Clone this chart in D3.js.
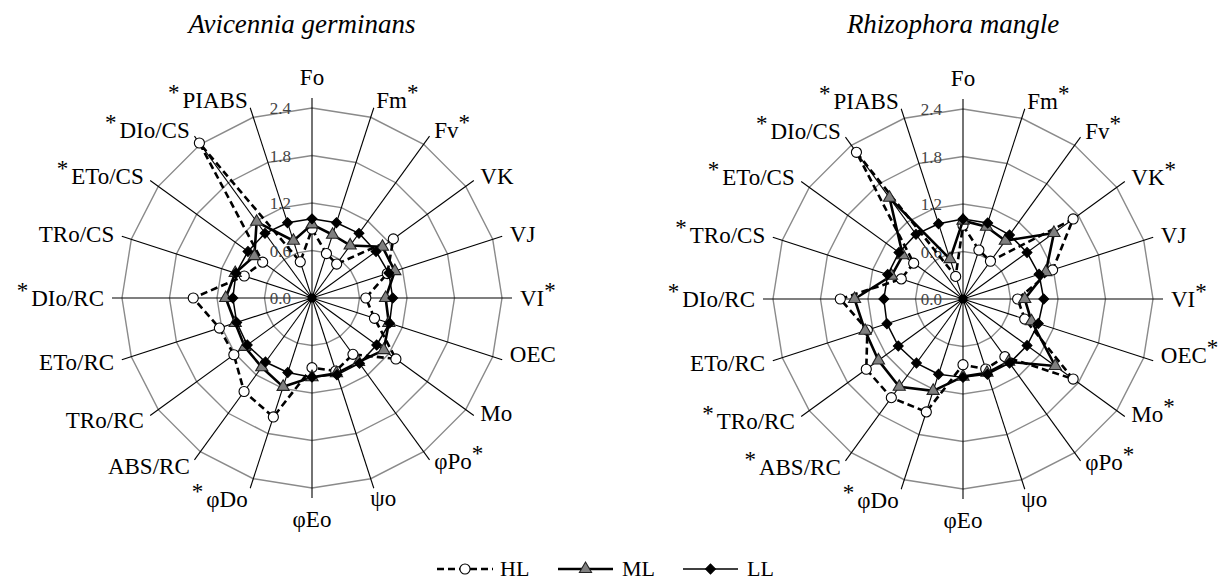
<!DOCTYPE html>
<html>
<head>
<meta charset="utf-8">
<script src="https://cdn.jsdelivr.net/npm/d3@7"></script>
<style>
  body { margin: 0; background: #fff; }
  svg text { font-family: "Liberation Serif", "Times New Roman", "DejaVu Serif", serif; }
</style>
</head>
<body>
<svg id="chart" width="1219" height="581"></svg>
<script>
// axes of both radars, clockwise from the top
const axes = ["Fo", "Fm", "Fv", "VK", "VJ", "VI", "OEC", "Mo", "φPo", "ψo",
              "φEo", "φDo", "ABS/RC", "TRo/RC", "ETo/RC", "DIo/RC", "TRo/CS", "ETo/CS", "DIo/CS", "PIABS"];
const ticks = [0.0, 0.6, 1.2, 1.8, 2.4];
const seriesNames = ["HL", "ML", "LL"];

// Avicennia germinans
const aviStars = ["Fm", "Fv", "VI", "φPo", "φDo", "DIo/RC", "ETo/CS", "DIo/CS", "PIABS"];
const aviHL = [0.87, 0.59, 0.53, 1.27, 1.00, 0.68, 0.83, 1.31, 0.88, 0.97,
               0.88, 1.58, 1.46, 1.22, 1.23, 1.50, 0.90, 0.77, 2.42, 0.48];
const aviML = [0.93, 0.84, 0.82, 1.10, 1.10, 0.93, 1.02, 1.12, 1.00, 1.00,
               1.00, 1.18, 1.08, 1.05, 1.02, 1.09, 1.02, 0.90, 1.19, 0.76];
const aviLL = [1.00, 1.00, 1.01, 1.00, 1.02, 1.02, 1.03, 1.01, 1.02, 1.02,
               1.00, 0.99, 1.00, 1.01, 1.00, 1.00, 1.01, 1.00, 1.01, 1.00];

// Rhizophora mangle
const rhiStars = ["Fm", "Fv", "VK", "VI", "OEC", "Mo", "φPo", "φDo", "ABS/RC", "TRo/RC",
                  "DIo/RC", "TRo/CS", "ETo/CS", "DIo/CS", "PIABS"];
const rhiHL = [0.93, 0.65, 0.59, 1.72, 1.19, 0.69, 0.82, 1.72, 0.90, 0.93,
               0.83, 1.50, 1.54, 1.51, 1.27, 1.55, 0.82, 0.77, 2.29, 0.30];
const rhiML = [0.99, 0.96, 0.91, 1.42, 1.10, 0.78, 0.91, 1.44, 0.98, 0.98,
               0.98, 1.22, 1.37, 1.32, 1.30, 1.37, 0.95, 0.94, 1.58, 0.53];
const rhiLL = [1.01, 1.01, 1.00, 1.00, 1.01, 1.02, 1.00, 1.00, 1.00, 1.00,
               0.99, 1.00, 1.00, 1.01, 1.01, 1.00, 1.00, 1.00, 1.01, 1.00];

const FONT = '"Liberation Serif", "Times New Roman", "DejaVu Serif", serif';

const svg = d3.select('#chart');
svg.append('rect').attr('width', 1219).attr('height', 581).attr('fill', '#fff');

const rScale = d3.scaleLinear().domain([0, 2.4]).range([0, 190]);
const angle = i => i * 2 * Math.PI / axes.length;

const styles = {
    HL: { dash: '7,4', width: 2.6, symbol: d3.symbolCircle, size: 80, fill: '#fff', stroke: '#000', rot: 0 },
    ML: { dash: null, width: 2.6, symbol: d3.symbolTriangle, size: 64, fill: '#808080', stroke: '#222', rot: 0 },
    LL: { dash: null, width: 1.5, symbol: d3.symbolSquare, size: 48, fill: '#000', stroke: '#000', rot: 45 }
};

// small nudges for label placement
const labelNudge = { "OEC": [0, -8], "Mo": [0, -7], "φPo": [0, -5], "ψo": [-6, 2], "φDo": [0, 3] };

function drawRadar(cx, cy, title, data, stars) {
    const g = svg.append('g').attr('transform', `translate(${cx},${cy})`);

    svg.append('text')
        .attr('x', cx - 10).attr('y', 33)
        .attr('text-anchor', 'middle')
        .attr('font-family', FONT)
        .style('font-style', 'italic')
        .style('font-size', '27px')
        .text(title);

    // polygon rings
    const ring = d3.lineRadial()
        .angle((d, i) => angle(i))
        .radius(d => rScale(d))
        .curve(d3.curveLinearClosed);

    ticks.slice(1).forEach(t => {
        g.append('path')
            .datum(axes.map(() => t))
            .attr('d', ring)
            .attr('fill', 'none')
            .attr('stroke', '#8a8a8a')
            .attr('stroke-width', 1.4);
    });

    // spokes
    const axisLen = rScale(2.4) + 10;
    axes.forEach((a, i) => {
        const th = angle(i);
        g.append('line')
            .attr('x1', 0).attr('y1', 0)
            .attr('x2', axisLen * Math.sin(th))
            .attr('y2', -axisLen * Math.cos(th))
            .attr('stroke', '#000')
            .attr('stroke-width', 1.1);
    });

    // tick labels along the top spoke
    g.selectAll('.tick')
        .data(ticks)
        .join('text')
        .attr('x', -21)
        .attr('y', d => -rScale(d) + 6)
        .attr('text-anchor', 'end')
        .attr('font-family', FONT)
        .style('font-size', '17px')
        .style('fill', '#444')
        .text(d => d.toFixed(1));

    // series
    seriesNames.forEach((name, si) => {
        const st = styles[name];
        const vals = data[si];
        const line = d3.lineRadial()
            .angle((d, i) => angle(i))
            .radius(d => rScale(d))
            .curve(d3.curveLinearClosed);
        g.append('path')
            .datum(vals)
            .attr('d', line)
            .attr('fill', 'none')
            .attr('stroke', '#000')
            .attr('stroke-width', st.width)
            .attr('stroke-dasharray', st.dash)
            .attr('stroke-linejoin', 'round');
        g.selectAll('.m' + name)
            .data(vals)
            .join('path')
            .attr('d', d3.symbol().type(st.symbol).size(st.size))
            .attr('transform', (d, i) => {
                const th = angle(i);
                return `translate(${rScale(d) * Math.sin(th)},${-rScale(d) * Math.cos(th)}) rotate(${st.rot})`;
            })
            .attr('fill', st.fill)
            .attr('stroke', st.stroke)
            .attr('stroke-width', 1.1);
    });

    g.append('circle').attr('r', 4.5).attr('fill', '#000');

    // axis labels
    axes.forEach((a, i) => {
        const th = angle(i);
        const s = Math.sin(th), c = Math.cos(th);
        let x = 208 * s, y = -208 * c;
        let anchor = s > 0.1 ? 'start' : (s < -0.1 ? 'end' : 'middle');
        if (a === 'Fo') { x = 0; y = -221; }
        if (a === 'φEo') { x = 0; y = 221; }
        const n = labelNudge[a] || [0, 0];
        x += n[0]; y += n[1];
        const starred = stars.includes(a);
        const t = g.append('text')
            .attr('x', x).attr('y', y + 8)
            .attr('text-anchor', anchor)
            .attr('font-family', FONT)
            .style('font-size', '23px');
        if (starred && anchor === 'end') {
            t.append('tspan').attr('dy', -8).text('*');
            t.append('tspan').attr('dy', 8).attr('dx', 3).text(a);
        } else if (starred) {
            t.append('tspan').text(a);
            t.append('tspan').attr('dy', -8).text('*');
        } else {
            t.text(a);
        }
    });
}

drawRadar(312, 298, 'Avicennia germinans', [aviHL, aviML, aviLL], aviStars);
drawRadar(963, 299, 'Rhizophora mangle', [rhiHL, rhiML, rhiLL], rhiStars);

// legend
const legendItems = [
    { name: 'HL', x1: 437, x2: 493, tx: 500 },
    { name: 'ML', x1: 558, x2: 613, tx: 622 },
    { name: 'LL', x1: 683, x2: 738, tx: 747 }
];
const legY = 569;
legendItems.forEach(it => {
    const st = styles[it.name];
    svg.append('line')
        .attr('x1', it.x1).attr('x2', it.x2)
        .attr('y1', legY).attr('y2', legY)
        .attr('stroke', '#000')
        .attr('stroke-width', st.width)
        .attr('stroke-dasharray', st.dash);
    svg.append('path')
        .attr('d', d3.symbol().type(st.symbol).size(st.size)())
        .attr('transform', `translate(${(it.x1 + it.x2) / 2},${legY}) rotate(${st.rot})`)
        .attr('fill', st.fill)
        .attr('stroke', st.stroke)
        .attr('stroke-width', 1.1);
    svg.append('text')
        .attr('x', it.tx).attr('y', legY + 7)
        .attr('font-family', FONT)
        .style('font-size', '22px')
        .text(it.name);
});
</script>
</body>
</html>
